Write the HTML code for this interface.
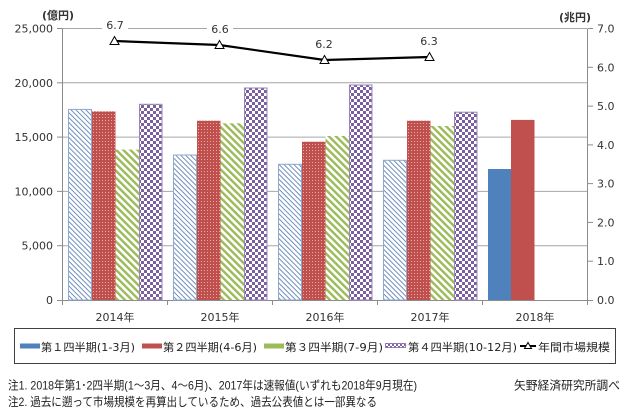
<!DOCTYPE html>
<html>
<head>
<meta charset="utf-8">
<style>
html,body{margin:0;padding:0;background:#fff;}
svg{display:block;}
.ax{font-family:"DejaVu Sans","Noto Sans CJK JP",sans-serif;font-size:11px;fill:#333;}
.lg{font-family:"DejaVu Sans","Noto Sans CJK JP",sans-serif;font-size:11px;fill:#222;}
.fn{font-family:"Liberation Sans","Noto Sans CJK JP",sans-serif;font-size:12px;fill:#222;}
</style>
</head>
<body>
<svg width="629" height="410" viewBox="0 0 629 410" xmlns="http://www.w3.org/2000/svg">
<defs>
  <pattern id="pQ1" patternUnits="userSpaceOnUse" width="3.5" height="3.5" patternTransform="rotate(-45)">
    <rect width="3.5" height="3.5" fill="#fff"/>
    <rect x="0" y="0" width="1" height="3.5" fill="#6F8FBE"/>
  </pattern>
  <pattern id="pQ2" patternUnits="userSpaceOnUse" width="3" height="3">
    <rect width="3" height="3" fill="#C0504D"/>
    <rect x="0" y="0" width="1" height="1" fill="#E6A9A7"/>
  </pattern>
  <pattern id="pQ3" patternUnits="userSpaceOnUse" width="5" height="5" patternTransform="rotate(-45)">
    <rect width="5" height="5" fill="#fff"/>
    <rect x="0" y="0" width="2.4" height="5" fill="#9BBB59"/>
  </pattern>
  <pattern id="pQ4" patternUnits="userSpaceOnUse" width="6" height="6">
    <rect width="6" height="6" fill="#fff"/>
    <rect x="0" y="0" width="3" height="3" fill="#7A5FA0"/>
    <rect x="3" y="3" width="3" height="3" fill="#7A5FA0"/>
  </pattern>
  <pattern id="pQ4s" patternUnits="userSpaceOnUse" width="4" height="4">
    <rect width="4" height="4" fill="#fff"/>
    <rect x="0" y="0" width="2" height="2" fill="#8064A2"/>
    <rect x="2" y="2" width="2" height="2" fill="#8064A2"/>
  </pattern>
</defs>

<!-- gridlines -->
<g stroke="#A6A6A6" stroke-width="1">
  <line x1="62" y1="28.5" x2="587" y2="28.5"/>
  <line x1="62" y1="82.8" x2="587" y2="82.8"/>
  <line x1="62" y1="137.1" x2="587" y2="137.1"/>
  <line x1="62" y1="191.4" x2="587" y2="191.4"/>
  <line x1="62" y1="245.7" x2="587" y2="245.7"/>
</g>

<!-- axes -->
<g stroke="#8C8C8C" stroke-width="1">
  <line x1="62.5" y1="28.5" x2="62.5" y2="300.5"/>
  <line x1="587.5" y1="28.5" x2="587.5" y2="300.5"/>
  <line x1="62" y1="300.5" x2="588" y2="300.5"/>
  <!-- left ticks -->
  <line x1="57" y1="28.5" x2="62" y2="28.5"/>
  <line x1="57" y1="82.8" x2="62" y2="82.8"/>
  <line x1="57" y1="137.1" x2="62" y2="137.1"/>
  <line x1="57" y1="191.4" x2="62" y2="191.4"/>
  <line x1="57" y1="245.7" x2="62" y2="245.7"/>
  <line x1="57" y1="300.5" x2="62" y2="300.5"/>
  <!-- right ticks -->
  <line x1="588" y1="28.5" x2="593" y2="28.5"/>
  <line x1="588" y1="67.3" x2="593" y2="67.3"/>
  <line x1="588" y1="106.1" x2="593" y2="106.1"/>
  <line x1="588" y1="144.9" x2="593" y2="144.9"/>
  <line x1="588" y1="183.6" x2="593" y2="183.6"/>
  <line x1="588" y1="222.4" x2="593" y2="222.4"/>
  <line x1="588" y1="261.2" x2="593" y2="261.2"/>
  <line x1="588" y1="300.5" x2="593" y2="300.5"/>
  <!-- bottom ticks -->
  <line x1="62.5" y1="300" x2="62.5" y2="305"/>
  <line x1="167.5" y1="300" x2="167.5" y2="305"/>
  <line x1="272.5" y1="300" x2="272.5" y2="305"/>
  <line x1="377.5" y1="300" x2="377.5" y2="305"/>
  <line x1="482.5" y1="300" x2="482.5" y2="305"/>
  <line x1="587.5" y1="300" x2="587.5" y2="305"/>
</g>

<!-- bars -->
<g>
  <!-- 2014 -->
  <rect x="68.5" y="109.4" width="23" height="190.6" fill="url(#pQ1)" stroke="#8EA9CB" stroke-width="1"/>
  <rect x="92" y="111.4" width="23.5" height="188.6" fill="url(#pQ2)"/>
  <rect x="115.5" y="149.6" width="23.5" height="150.4" fill="url(#pQ3)"/>
  <rect x="139.5" y="104.3" width="22.5" height="195.7" fill="url(#pQ4)" stroke="#9A86B8" stroke-width="1"/>
  <!-- 2015 -->
  <rect x="173.5" y="155" width="23" height="145" fill="url(#pQ1)" stroke="#8EA9CB" stroke-width="1"/>
  <rect x="197" y="120.7" width="23.5" height="179.3" fill="url(#pQ2)"/>
  <rect x="220.5" y="123.3" width="23.5" height="176.7" fill="url(#pQ3)"/>
  <rect x="244.5" y="88" width="22.5" height="212" fill="url(#pQ4)" stroke="#9A86B8" stroke-width="1"/>
  <!-- 2016 -->
  <rect x="278.5" y="164.3" width="23" height="135.7" fill="url(#pQ1)" stroke="#8EA9CB" stroke-width="1"/>
  <rect x="302" y="141.7" width="23.5" height="158.3" fill="url(#pQ2)"/>
  <rect x="325.5" y="136" width="23.5" height="164" fill="url(#pQ3)"/>
  <rect x="349.5" y="85" width="22.5" height="215" fill="url(#pQ4)" stroke="#9A86B8" stroke-width="1"/>
  <!-- 2017 -->
  <rect x="383.5" y="160.3" width="23" height="139.7" fill="url(#pQ1)" stroke="#8EA9CB" stroke-width="1"/>
  <rect x="407" y="120.7" width="23.5" height="179.3" fill="url(#pQ2)"/>
  <rect x="430.5" y="126" width="23.5" height="174" fill="url(#pQ3)"/>
  <rect x="454.5" y="112.2" width="22.5" height="187.8" fill="url(#pQ4)" stroke="#9A86B8" stroke-width="1"/>
  <!-- 2018 -->
  <rect x="488" y="169" width="23.5" height="131" fill="#4F81BD"/>
  <rect x="511" y="119.9" width="23.5" height="180.1" fill="#C0504D"/>
</g>

<!-- line -->
<polyline points="114.5,41 219.5,45 324.5,60 429.5,57" fill="none" stroke="#000" stroke-width="2.2"/>
<g fill="#fff" stroke="#000" stroke-width="1">
  <polygon points="114.5,36.5 119,44.5 110,44.5"/>
  <polygon points="219.5,40.5 224,48.5 215,48.5"/>
  <polygon points="324.5,55.5 329,63.5 320,63.5"/>
  <polygon points="429.5,52.5 434,60.5 425,60.5"/>
</g>

<!-- data labels -->
<g>
  <rect x="102" y="17" width="26" height="16" fill="#fff"/>
  <rect x="207" y="21" width="26" height="16" fill="#fff"/>
  <text class="ax" x="115" y="29" text-anchor="middle">6.7</text>
  <text class="ax" x="220" y="33" text-anchor="middle">6.6</text>
  <text class="ax" x="324" y="48" text-anchor="middle">6.2</text>
  <text class="ax" x="429" y="45" text-anchor="middle">6.3</text>
</g>

<!-- left axis labels -->
<g class="ax" text-anchor="end">
  <text x="53" y="32.5">25,000</text>
  <text x="53" y="86.8">20,000</text>
  <text x="53" y="141.1">15,000</text>
  <text x="53" y="195.4">10,000</text>
  <text x="53" y="249.7">5,000</text>
  <text x="53" y="304">0</text>
</g>
<!-- right axis labels -->
<g class="ax" text-anchor="start">
  <text x="597" y="32.5">7.0</text>
  <text x="597" y="71.3">6.0</text>
  <text x="597" y="110.1">5.0</text>
  <text x="597" y="148.9">4.0</text>
  <text x="597" y="187.6">3.0</text>
  <text x="597" y="226.4">2.0</text>
  <text x="597" y="265.2">1.0</text>
  <text x="597" y="304">0.0</text>
</g>
<!-- category labels -->
<g class="ax" text-anchor="middle">
  <text x="115" y="321">2014年</text>
  <text x="220" y="321">2015年</text>
  <text x="325" y="321">2016年</text>
  <text x="430" y="321">2017年</text>
  <text x="535" y="321">2018年</text>
</g>
<!-- units -->
<text class="ax" x="42" y="19" font-weight="bold" textLength="32" lengthAdjust="spacingAndGlyphs">(億円)</text>
<text class="ax" x="559" y="21" font-weight="bold" textLength="32" lengthAdjust="spacingAndGlyphs">(兆円)</text>

<!-- legend -->
<rect x="14.5" y="328.5" width="601" height="35" fill="#fff" stroke="#404040" stroke-width="1"/>
<rect x="20" y="343.5" width="20" height="5" fill="#4F81BD"/>
<text class="lg" x="41" y="351" textLength="94" lengthAdjust="spacingAndGlyphs">第１四半期(1-3月)</text>
<rect x="142" y="343.5" width="20" height="5" fill="#C0504D"/>
<text class="lg" x="163" y="351" textLength="94" lengthAdjust="spacingAndGlyphs">第２四半期(4-6月)</text>
<rect x="264" y="343.5" width="20" height="5" fill="#9BBB59"/>
<text class="lg" x="285" y="351" textLength="98" lengthAdjust="spacingAndGlyphs">第３四半期(7-9月)</text>
<rect x="385.5" y="343.5" width="20" height="4" fill="url(#pQ4s)" stroke="#8064A2" stroke-width="0.8"/>
<text class="lg" x="408" y="351" textLength="109" lengthAdjust="spacingAndGlyphs">第４四半期(10-12月)</text>
<line x1="520" y1="346" x2="536" y2="346" stroke="#000" stroke-width="2"/>
<polygon points="528,342.5 531.5,348.5 524.5,348.5" fill="#fff" stroke="#000" stroke-width="1"/>
<text class="lg" x="538" y="351" textLength="72" lengthAdjust="spacingAndGlyphs">年間市場規模</text>

<!-- footnotes -->
<text class="fn" x="8" y="389.5" textLength="409" lengthAdjust="spacingAndGlyphs">注1. 2018年第1･2四半期(1～3月、4～6月)、2017年は速報値(いずれも2018年9月現在)</text>
<text class="fn" x="8" y="406" textLength="369" lengthAdjust="spacingAndGlyphs">注2. 過去に遡って市場規模を再算出しているため、過去公表値とは一部異なる</text>
<text class="fn" x="514" y="389.5" textLength="106" lengthAdjust="spacingAndGlyphs">矢野経済研究所調べ</text>
</svg>
</body>
</html>
